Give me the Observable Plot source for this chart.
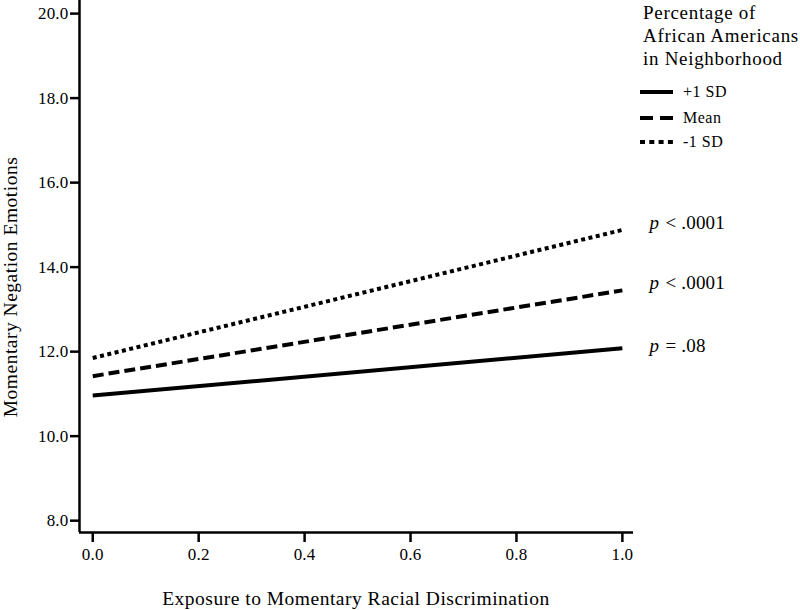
<!DOCTYPE html>
<html><head><meta charset="utf-8">
<script src="https://cdn.jsdelivr.net/npm/d3@7"></script>
<script src="https://cdn.jsdelivr.net/npm/@observablehq/plot@0.6"></script>
<style>
body{margin:0;background:#fff;}
#wrap{position:relative;width:800px;height:610px;font-family:"Liberation Serif","Times New Roman",serif;}
#legend{position:absolute;left:0;top:0;pointer-events:none;}
</style></head><body><div id="wrap"></div>
<script>
const xValues = [0, 1];
const seriesNames = ["+1 SD", "Mean", "-1 SD"];
const plus1SD = [10.96, 12.08];
const meanLine = [11.42, 13.45];
const minus1SD = [11.85, 14.88];
const pSymbols = ["=", "<", "<"];
const pValues = [".08", ".0001", ".0001"];
const pAnchorY = [12.14, 13.63, 15.05];
const xTicks = [0, 0.2, 0.4, 0.6, 0.8, 1.0];
const yTicks = [8, 10, 12, 14, 16, 18, 20];
const legendTitle = ["Percentage of", "African Americans", "in Neighborhood"];
const xLabel = "Exposure to Momentary Racial Discrimination";
const yLabel = "Momentary Negation Emotions";

const seriesValues = [plus1SD, meanLine, minus1SD];
const dashes = [null, "11,5", "4,3.5"];
const legendDashes = [null, "13,7", "5,4.3"];
const xDomain = [-0.025, 1.021];
const yDomain = [7.72, 20.31];

const lineMarks = seriesNames.map((s, i) => Plot.line(
  xValues.map((x, j) => ({series: s, x, y: seriesValues[i][j]})),
  {x: "x", y: "y", stroke: "#000", strokeWidth: 4, strokeDasharray: dashes[i] || undefined, strokeLinecap: "butt"}
));

const pRows = seriesNames.map((s, i) => ({x: xValues[1], y: pAnchorY[i], sym: pSymbols[i], val: pValues[i]}));

const chart = Plot.plot({
  width: 800, height: 610,
  marginLeft: 79, marginRight: 167, marginTop: 0, marginBottom: 78,
  style: {fontFamily: '"Liberation Serif","Times New Roman",serif', fontSize: "17px", color: "#000", background: "#fff", letterSpacing: "0.2px", overflow: "visible"},
  x: {domain: xDomain},
  y: {domain: yDomain},
  marks: [
    Plot.ruleX([xDomain[0]], {stroke: "#000", strokeWidth: 2.5}),
    Plot.ruleY([yDomain[0]], {stroke: "#000", strokeWidth: 2.5}),
    Plot.axisY({ticks: yTicks, tickFormat: d3.format(".1f"), tickSize: 9, tickPadding: 2, strokeWidth: 2.5, fontSize: 17, label: null}),
    Plot.axisX({ticks: xTicks, tickFormat: d3.format(".1f"), tickSize: 10, tickPadding: 5, strokeWidth: 2.5, fontSize: 17, label: null}),
    ...lineMarks,
    Plot.text(pRows, {x: "x", y: "y", text: () => "p", dx: 27, textAnchor: "start", fontSize: 19, fontStyle: "italic", fill: "#000"}),
    Plot.text(pRows, {x: "x", y: "y", text: d => d.sym + " " + d.val, dx: 43, textAnchor: "start", fontSize: 19, fill: "#000"})
  ]
});
const wrap = document.getElementById("wrap");
wrap.appendChild(chart);

const leg = d3.select(wrap).append("svg").attr("id", "legend").attr("width", 800).attr("height", 610)
  .style("font-family", '"Liberation Serif","Times New Roman",serif');
leg.append("text").attr("transform", "translate(17,287) rotate(-90)").attr("text-anchor", "middle")
  .attr("font-size", 19.5).attr("letter-spacing", "0.5px").attr("fill", "#000").text(yLabel);
leg.append("text").attr("x", 356).attr("y", 605).attr("text-anchor", "middle")
  .attr("font-size", 19.5).attr("letter-spacing", "0.5px").attr("fill", "#000").text(xLabel);
legendTitle.forEach((t, i) => {
  leg.append("text").attr("x", 643).attr("y", 19 + i * 23).attr("font-size", 19)
    .attr("letter-spacing", "0.7px").attr("fill", "#000").text(t);
});
const rowY = [92, 118, 142];
seriesNames.forEach((s, i) => {
  const ln = leg.append("line").attr("x1", 640).attr("x2", 673).attr("y1", rowY[i]).attr("y2", rowY[i])
    .attr("stroke", "#000").attr("stroke-width", 4);
  if (legendDashes[i]) ln.attr("stroke-dasharray", legendDashes[i]);
  leg.append("text").attr("x", 683).attr("y", rowY[i] + 5).attr("font-size", 16)
    .attr("letter-spacing", "0.5px").attr("fill", "#000").text(s);
});
</script></body></html>
